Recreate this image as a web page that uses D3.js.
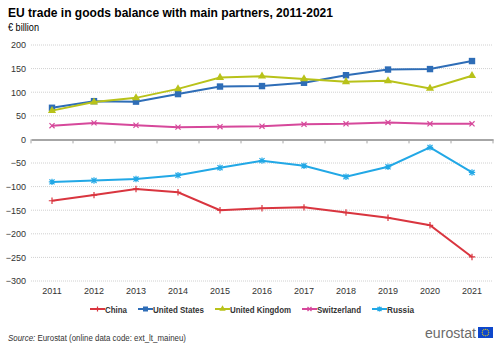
<!DOCTYPE html>
<html><head><meta charset="utf-8">
<script src="https://cdn.jsdelivr.net/npm/d3@7"></script>
<style>
body{margin:0;background:#fff;}
svg{font-family:"Liberation Sans",Arial,sans-serif;}
</style></head>
<body>
<svg id="c" width="500" height="347"></svg>
<script>
const years = ["2011","2012","2013","2014","2015","2016","2017","2018","2019","2020","2021"];
const yTicks = [200,150,100,50,0,-50,-100,-150,-200,-250,-300];
const seriesNames = ["China","United States","United Kingdom","Switzerland","Russia"];
const china = [-130,-118,-105,-112,-150,-146,-144,-155,-166,-182,-249];
const unitedStates = [67,81,80,96,112,113,120,136,148,149,166];
const unitedKingdom = [61,79,88,107,131,134,128,122,124,108,135];
const switzerland = [29,35,30,26,27,28,32,33,36,33,33];
const russia = [-90,-87,-84,-76,-60,-45,-56,-79,-58,-17,-70];

const colors = ["#d9353f","#2e6db7","#b8c21a","#d6489b","#22a8e6"];
const symbols = ["plus","square","triangle","x","asterisk"];
const data = [china,unitedStates,unitedKingdom,switzerland,russia];

const svg = d3.select("#c");
const pLeft = 31, pRight = 493, pTop = 45, pBottom = 281;
const x = d3.scaleBand().domain(years).range([pLeft,pRight]);
const y = d3.scaleLinear().domain([-300,200]).range([pBottom,pTop]);

function fit(t, w){
  const fs = +t.attr("font-size");
  const cur = t.node().getComputedTextLength();
  t.attr("font-size", (fs*w/cur).toFixed(2));
}
function squeeze(t, w){
  t.attr("textLength", w).attr("lengthAdjust","spacingAndGlyphs");
}

const title = svg.append("text").attr("x",8).attr("y",17).attr("font-size",12.5).attr("font-weight","bold").attr("fill","#000")
  .text("EU trade in goods balance with main partners, 2011-2021");
squeeze(title, 325);
const sub = svg.append("text").attr("x",8).attr("y",31).attr("font-size",10).attr("fill","#000").text("€ billion");
squeeze(sub, 31);

// grid
svg.append("g").selectAll("line").data(yTicks.filter(d=>d!==0)).join("line")
  .attr("x1",pLeft).attr("x2",pRight).attr("y1",d=>y(d)).attr("y2",d=>y(d))
  .attr("stroke","#d0d0d0").attr("stroke-width",1).attr("stroke-dasharray","1,1");

// y labels
const ya = svg.append("g").attr("transform",`translate(${pLeft},0)`)
  .call(d3.axisLeft(y).tickValues(yTicks).tickSize(0).tickPadding(5));
ya.select(".domain").remove();
ya.selectAll("text").attr("font-size",9).attr("fill","#333").attr("font-family","'Liberation Sans',Arial,sans-serif");

// zero axis
const xa = svg.append("g").attr("transform",`translate(0,${y(0)})`)
  .call(d3.axisBottom(x).tickSizeInner(0).tickSizeOuter(0).tickFormat(""));
xa.select(".domain").attr("stroke","#a6a6a6").attr("stroke-width",2);
const tickPos = years.map(d=>x(d)).concat([pRight]);
svg.append("g").selectAll("line").data(tickPos).join("line")
  .attr("x1",d=>d).attr("x2",d=>d).attr("y1",y(0)).attr("y2",y(0)+4)
  .attr("stroke","#a6a6a6").attr("stroke-width",1);

// x labels
svg.append("g").selectAll("text").data(years).join("text")
  .attr("x",d=>x(d)+x.bandwidth()/2).attr("y",294).attr("text-anchor","middle")
  .attr("font-size",9).attr("fill","#333").text(d=>d);

function marker(g, type, color, s){
  if(type==="square"){
    g.append("rect").attr("x",-s).attr("y",-s).attr("width",2*s).attr("height",2*s).attr("fill",color);
  } else if(type==="triangle"){
    g.append("path").attr("d",d3.symbol(d3.symbolTriangle,s*s*2.8)).attr("fill",color);
  } else {
    let p="";
    if(type==="plus"||type==="asterisk") p+=`M${-s},0L${s},0M0,${-s}L0,${s}`;
    if(type==="x"||type==="asterisk") p+=`M${-s*0.8},${-s*0.8}L${s*0.8},${s*0.8}M${-s*0.8},${s*0.8}L${s*0.8},${-s*0.8}`;
    g.append("path").attr("d",p).attr("stroke",color).attr("stroke-width",1.2).attr("fill","none");
  }
}

const line = d3.line().x((d,i)=>x(years[i])+x.bandwidth()/2).y(d=>y(d));
data.forEach((vals,k)=>{
  svg.append("path").datum(vals).attr("d",line).attr("fill","none")
    .attr("stroke",colors[k]).attr("stroke-width",2);
  vals.forEach((v,i)=>{
    const g = svg.append("g").attr("transform",`translate(${x(years[i])+x.bandwidth()/2},${y(v)})`);
    marker(g,symbols[k],colors[k],3.2);
  });
});

// legend
const legend = svg.append("g");
let lx = 90; const ly = 309;
const legW = [22,51,61,44,27];
seriesNames.forEach((n,k)=>{
  const g = legend.append("g").attr("transform",`translate(${lx},${ly})`);
  g.append("line").attr("x1",0).attr("x2",15).attr("y1",0).attr("y2",0).attr("stroke",colors[k]).attr("stroke-width",2);
  const m = g.append("g").attr("transform","translate(7.5,0)");
  marker(m,symbols[k],colors[k],2.5);
  const t = g.append("text").attr("x",15).attr("y",3.5).attr("font-size",9).attr("font-weight","bold").attr("fill","#333").text(n);
  squeeze(t, legW[k]);
  lx += 15 + legW[k] + 11;
});

// source
const src = svg.append("text").attr("x",8).attr("y",341).attr("font-size",8.5).attr("fill","#333");
src.append("tspan").attr("font-style","italic").text("Source:");
src.append("tspan").text(" Eurostat (online data code: ext_lt_maineu)");
squeeze(src, 178);

// logo
const logo = svg.append("text").attr("x",476).attr("y",338).attr("text-anchor","end").attr("font-size",13).attr("fill","#6b6b6b")
  .attr("font-family","'Liberation Sans',Arial,sans-serif").text("eurostat");
fit(logo, 51);
svg.append("rect").attr("x",478).attr("y",327).attr("width",15).attr("height",11).attr("fill","#0e47cb");
svg.append("g").selectAll("circle").data(d3.range(12)).join("circle")
  .attr("cx",d=>485.5+3.3*Math.cos(d*Math.PI/6)).attr("cy",d=>332.5+3.3*Math.sin(d*Math.PI/6))
  .attr("r",0.55).attr("fill","#ffdd00");
</script>
</body></html>
